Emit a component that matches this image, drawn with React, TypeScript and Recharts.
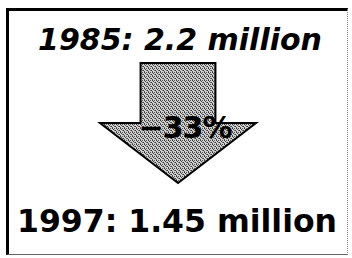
import { BarChart, Bar, XAxis, YAxis, LabelList } from 'recharts';

const years = ['1985', '1997'];
const values = [2.2, 1.45];
const changeLabel = '−33%';

const data = [{ name: 'change', range: [values[1], values[0]], pct: changeLabel }];

const W = 352;
const H = 258;
const FONT = 'DejaVu Sans, Liberation Sans, Arial, sans-serif';

// arrow pointing down: full bar box is the head width, shaft narrower
const ArrowShape = (props: any) => {
  const { x, y, width, height } = props;
  const cx = x + width / 2;
  const shaftW = width * 0.48;
  const headY = y + height * 0.5;
  const d = [
    `M${cx - shaftW / 2},${y}`,
    `L${cx + shaftW / 2},${y}`,
    `L${cx + shaftW / 2},${headY}`,
    `L${x + width},${headY}`,
    `L${cx},${y + height}`,
    `L${x},${headY}`,
    `L${cx - shaftW / 2},${headY}`,
    'Z',
  ].join(' ');
  return <path d={d} fill="url(#dither)" stroke="#000" strokeWidth={2} strokeLinejoin="miter" />;
};

const YearLabels = (props: any) => {
  const { x, y, width, height } = props;
  const cx = x + width / 2;
  return (
    <g>
      <text
        x={cx + 2}
        y={y - 13}
        textAnchor="middle"
        style={{ fontFamily: FONT, fontWeight: 700, fontStyle: 'italic', fontSize: 30, fill: '#000' }}
      >
        {`${years[0]}: ${values[0]} million`}
      </text>
      <text
        x={cx - 1}
        y={y + height + 49}
        textAnchor="middle"
        style={{ fontFamily: FONT, fontWeight: 700, fontSize: 31.5, fill: '#000' }}
      >
        {`${years[1]}: ${values[1]} million`}
      </text>
    </g>
  );
};

const PctLabel = (props: any) => {
  const { x, y, width, height, value } = props;
  return (
    <text
      x={x + width / 2 + 7}
      y={y + height * 0.5 + 15}
      textAnchor="middle"
      style={{ fontFamily: FONT, fontWeight: 700, fontSize: 30, fill: '#000', letterSpacing: -1 }}
    >
      {value}
    </text>
  );
};

export default function App() {
  return (
    <div style={{ width: W, height: H, position: 'relative', background: '#fff' }}>
      <style>{'body{margin:0}'}</style>
      <div
        style={{
          position: 'absolute',
          left: 6,
          top: 8,
          width: 342,
          height: 247,
          borderTop: '3px solid #000',
          borderLeft: '3px solid #000',
          borderRight: '1px dotted #888',
          borderBottom: '1px solid #666',
          boxSizing: 'border-box',
        }}
      />
      <BarChart
        width={W}
        height={H}
        data={data}
        margin={{ top: 63, right: 96, bottom: 75, left: 100 }}
        barCategoryGap={0}
        style={{ position: 'absolute', left: 0, top: 0 }}
      >
        <defs>
          <pattern id="dither" width={4} height={4} patternUnits="userSpaceOnUse">
            <rect width={4} height={4} fill="#d0d0d0" />
            <rect x={0} y={0} width={1} height={1} fill="#333" />
            <rect x={2} y={0} width={1} height={1} fill="#555" />
            <rect x={1} y={1} width={1} height={1} fill="#444" />
            <rect x={3} y={2} width={1} height={1} fill="#333" />
            <rect x={0} y={3} width={1} height={1} fill="#555" />
            <rect x={2} y={2} width={1} height={1} fill="#666" />
          </pattern>
        </defs>
        <XAxis dataKey="name" hide />
        <YAxis hide domain={[values[1], values[0]]} />
        <Bar dataKey="range" shape={ArrowShape} isAnimationActive={false}>
          <LabelList dataKey="pct" content={PctLabel} />
          <LabelList dataKey="pct" content={YearLabels} />
        </Bar>
      </BarChart>
    </div>
  );
}
